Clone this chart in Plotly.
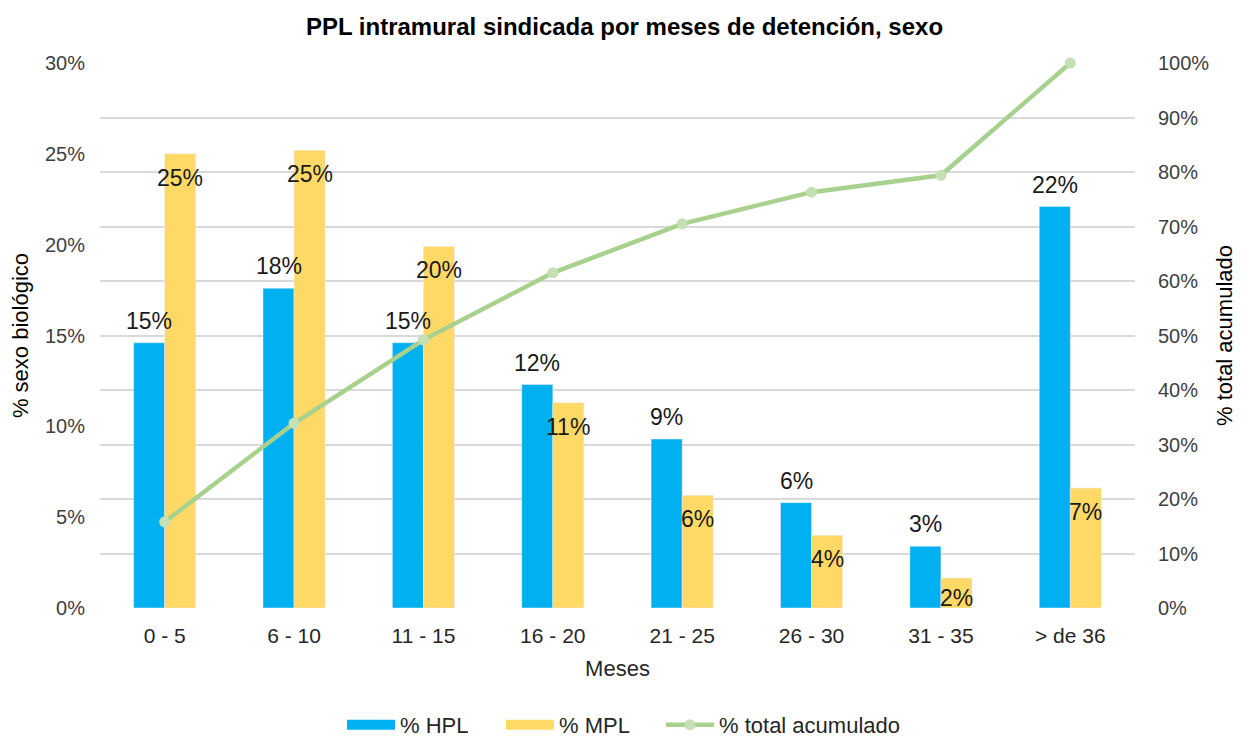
import plotly.graph_objects as go

categories = ["0 - 5", "6 - 10", "11 - 15", "16 - 20", "21 - 25", "26 - 30", "31 - 35", "> de 36"]
hpl = [0.146, 0.176, 0.146, 0.123, 0.093, 0.058, 0.034, 0.221]
mpl = [0.250, 0.252, 0.199, 0.113, 0.062, 0.040, 0.0165, 0.066]
acumulado = [0.158, 0.339, 0.492, 0.615, 0.705, 0.763, 0.794, 1.0]

FONT = "Liberation Sans, Arial, sans-serif"
BLUE = "#00B0F0"
YELLOW = "#FFD966"
GREEN = "#A9D18E"
GREEN_M = "#C5E0B4"

fig = go.Figure()
fig.add_trace(go.Bar(x=categories, y=hpl, name="% HPL", marker_color=BLUE, yaxis="y",
                     showlegend=False, legendgroup="h"))
fig.add_trace(go.Bar(x=categories, y=mpl, name="% MPL", marker_color=YELLOW, yaxis="y",
                     showlegend=False, legendgroup="m"))
# legend swatches (wide rectangles like the reference)
fig.add_trace(go.Scatter(x=[None], y=[None], name="% HPL", mode="lines", legendgroup="h",
                         line=dict(color=BLUE, width=14), yaxis="y", legend="legend"))
fig.add_trace(go.Scatter(x=[None], y=[None], name="% MPL", mode="lines", legendgroup="m",
                         line=dict(color=YELLOW, width=14), yaxis="y", legend="legend2"))
fig.add_trace(go.Scatter(x=categories, y=acumulado, name="% total acumulado", yaxis="y2",
                         mode="lines+markers", cliponaxis=False, legend="legend3",
                         line=dict(color=GREEN, width=4.5),
                         marker=dict(color=GREEN_M, size=11)))

plot_h = 545.0
ymax = 0.30
LABEL_FONT = dict(family=FONT, size=23, color="#1a1a1a")
annotations = []
for c, v in zip(categories, hpl):
    annotations.append(dict(x=c, y=v, xref="x", yref="y", text=f"{round(v*100):d}%",
                            showarrow=False, xshift=-15.5, yshift=22, font=LABEL_FONT))
for c, v in zip(categories, mpl):
    px = v / ymax * plot_h
    shift = -min(24, px / 2 + 5)
    annotations.append(dict(x=c, y=v, xref="x", yref="y", text=f"{round(v*100):d}%",
                            showarrow=False, xshift=15.5, yshift=shift, font=LABEL_FONT))

# the page body adds an 8px offset; size the figure so the plot lands where the reference has it
W, H = 1233, 730


def legend_at(xpix):
    return dict(orientation="h", x=xpix / W, xanchor="left", xref="container",
                y=13 / H, yanchor="middle", yref="container",
                font=dict(family=FONT, size=22, color="#262626"), itemwidth=48,
                bgcolor="rgba(0,0,0,0)")


fig.update_layout(
    width=W, height=H,
    margin=dict(l=92, r=W - 92 - 1035, t=55, b=H - 55 - 545),
    paper_bgcolor="white", plot_bgcolor="white",
    font=dict(family=FONT, color="#404040", size=20),
    title=dict(text="<b>PPL intramural sindicada por meses de detención, sexo</b>",
               x=0.5, xanchor="center", y=1 - 19 / H, yanchor="middle",
               font=dict(family=FONT, size=24, color="#000000")),
    barmode="group", bargap=0.52, bargroupgap=0,
    showlegend=True,
    legend=legend_at(334),
    legend2=legend_at(493),
    legend3=legend_at(653),
    xaxis=dict(type="category", showgrid=False, showline=False, ticks="", automargin=False,
               tickfont=dict(family=FONT, size=21, color="#262626"), ticklabelstandoff=13,
               title=dict(text="Meses", font=dict(family=FONT, size=22, color="#262626"), standoff=14)),
    yaxis=dict(range=[0, 0.30], tickvals=[0, 0.05, 0.10, 0.15, 0.20, 0.25, 0.30],
               tickformat=".0%", showgrid=False, zeroline=False, showline=False, automargin=False,
               tickfont=dict(family=FONT, size=20, color="#404040"), ticklabelstandoff=14,
               title=dict(text="% sexo biológico", font=dict(family=FONT, size=22, color="#000000"), standoff=12)),
    yaxis2=dict(range=[0, 1.0], dtick=0.1, tickformat=".0%", overlaying="y", side="right",
                showgrid=True, gridcolor="#D9D9D9", gridwidth=1.5, zeroline=False, showline=False,
                automargin=False,
                tickfont=dict(family=FONT, size=20, color="#404040"), ticklabelstandoff=22,
                title=dict(text="% total acumulado", font=dict(family=FONT, size=22, color="#000000"), standoff=8)),
    annotations=annotations,
)

fig.write_html("out.html")
